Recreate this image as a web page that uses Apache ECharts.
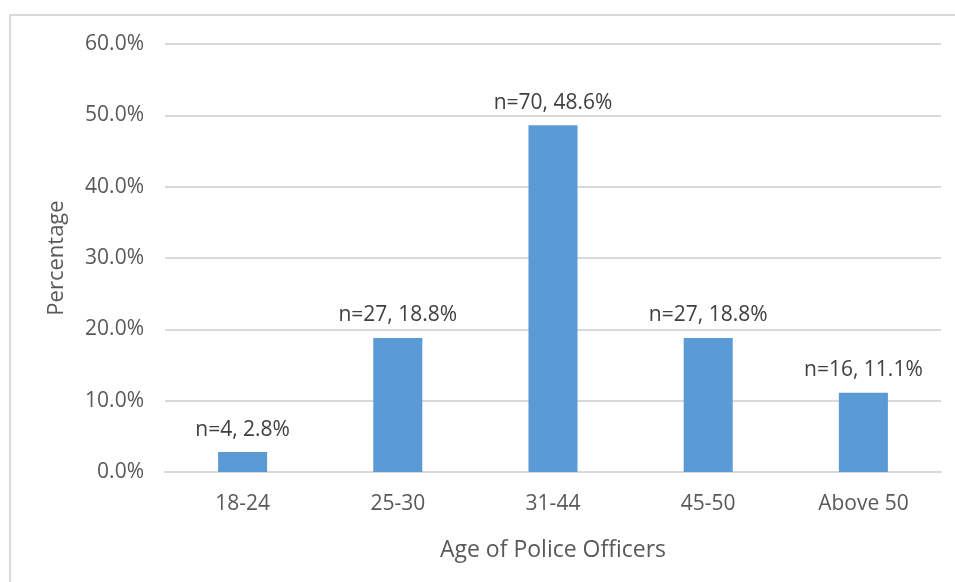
<!DOCTYPE html>
<html>
<head>
<meta charset="utf-8">
<script src="https://cdn.jsdelivr.net/npm/echarts@6/dist/echarts.min.js"></script>
<style>
  html, body { margin: 0; padding: 0; background: #fff; }
  #frame { position: absolute; left: 9px; top: 14px; width: 960px; height: 600px;
           border-left: 2px solid #d9d9d9; border-top: 2px solid #d9d9d9; }
  #chart { position: absolute; left: 0; top: 0; width: 955px; height: 582px; }
</style>
</head>
<body>
<div id="frame"></div>
<div id="chart"></div>
<script>
const categories = ['18-24', '25-30', '31-44', '45-50', 'Above 50'];
const counts = [4, 27, 70, 27, 16];
const percents = [2.8, 18.8, 48.6, 18.8, 11.1];
const yTicks = [0, 10, 20, 30, 40, 50, 60];

const font = '"Open Sans", "Noto Sans", sans-serif';
const chart = echarts.init(document.getElementById('chart'), null, { renderer: 'canvas' });

chart.setOption({
  animation: false,
  textStyle: { fontFamily: font },
  grid: { left: 165, right: 14, top: 44, bottom: 110 },
  xAxis: {
    type: 'category',
    data: categories,
    name: 'Age of Police Officers',
    nameLocation: 'middle',
    nameGap: 67,
    nameTextStyle: { fontSize: 23, color: '#595959', fontFamily: font },
    axisTick: { show: false },
    axisLine: { lineStyle: { color: '#d9d9d9', width: 2 } },
    axisLabel: { fontSize: 21, color: '#595959', margin: 22, fontFamily: font }
  },
  yAxis: {
    type: 'value',
    min: yTicks[0],
    max: yTicks[yTicks.length - 1],
    interval: 10,
    name: 'Percentage',
    nameLocation: 'middle',
    nameGap: 97,
    nameTextStyle: { fontSize: 22, color: '#595959', fontFamily: font },
    axisLine: { show: false },
    axisTick: { show: false },
    splitLine: { lineStyle: { color: '#d9d9d9', width: 2 } },
    axisLabel: {
      fontSize: 21, color: '#595959', margin: 21, fontFamily: font,
      formatter: v => v.toFixed(1) + '%'
    }
  },
  series: [{
    type: 'bar',
    data: percents,
    barWidth: '31.6%',
    itemStyle: { color: '#5b9bd5' },
    label: {
      show: true,
      position: 'top',
      distance: 12,
      fontSize: 21,
      color: '#404040',
      fontFamily: font,
      formatter: p => 'n=' + counts[p.dataIndex] + ', ' + percents[p.dataIndex].toFixed(1) + '%'
    }
  }]
});
</script>
</body>
</html>
